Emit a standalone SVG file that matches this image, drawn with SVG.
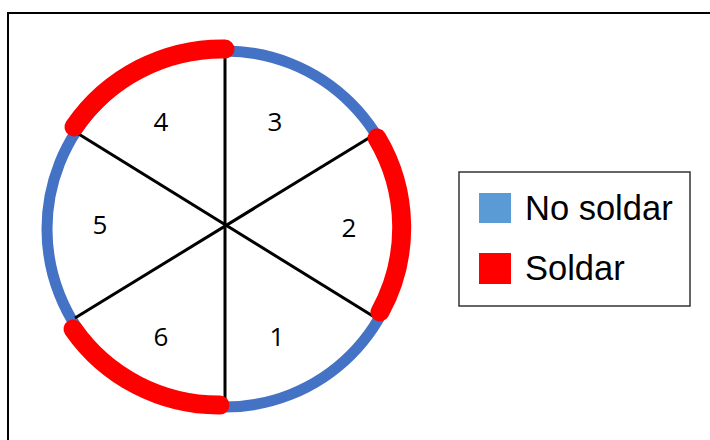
<svg xmlns="http://www.w3.org/2000/svg" width="710" height="440" viewBox="0 0 710 440">
<style>
.spoke{stroke:#000;stroke-width:3;fill:none}
.blue{stroke:#4472C4;stroke-width:11;fill:none}
.red{stroke:#FF0000;stroke-width:19;fill:none;stroke-linecap:round}
.num{font-family:"Open Sans","Liberation Sans",sans-serif;font-size:26px;fill:#000;text-anchor:middle}
.leg{font-family:"Liberation Sans",Arial,sans-serif;font-size:34.5px;fill:#000}
</style>
<rect x="8" y="13" width="710" height="440" fill="#fff" stroke="#000" stroke-width="2"/>
<g id="ring">
<circle class="blue" cx="225" cy="229" r="178"/>
</g>
<g id="connectors">
<line class="spoke" x1="225" y1="55" x2="225" y2="405"/>
<line class="spoke" x1="77" y1="133" x2="376" y2="318"/>
<line class="spoke" x1="75" y1="318" x2="377" y2="133"/>
</g>
<g id="solder">
<path class="red" d="M225,49 A180,180 0 0 0 74,127"/>
<path class="red" d="M377,138 A175,175 0 0 1 380,312"/>
<path class="red" d="M73,329 A178,178 0 0 0 220,405"/>
</g>
<g id="s1"><text class="num" x="277" y="346">1</text></g>
<g id="s2"><text class="num" x="349" y="237">2</text></g>
<g id="s3"><text class="num" x="275" y="131">3</text></g>
<g id="s4"><text class="num" x="161" y="131">4</text></g>
<g id="s5"><text class="num" x="100" y="234">5</text></g>
<g id="s6"><text class="num" x="161" y="346">6</text></g>
<g id="legend">
<rect x="459" y="172" width="231" height="134" fill="#fff" stroke="#333" stroke-width="1.5"/>
<rect x="479" y="193" width="32" height="30" fill="#5B9BD5"/>
<rect x="479" y="253" width="32" height="31" fill="#FF0000"/>
<text class="leg" x="525" y="220">No soldar</text>
<text class="leg" x="525" y="280">Soldar</text>
</g>
</svg>
